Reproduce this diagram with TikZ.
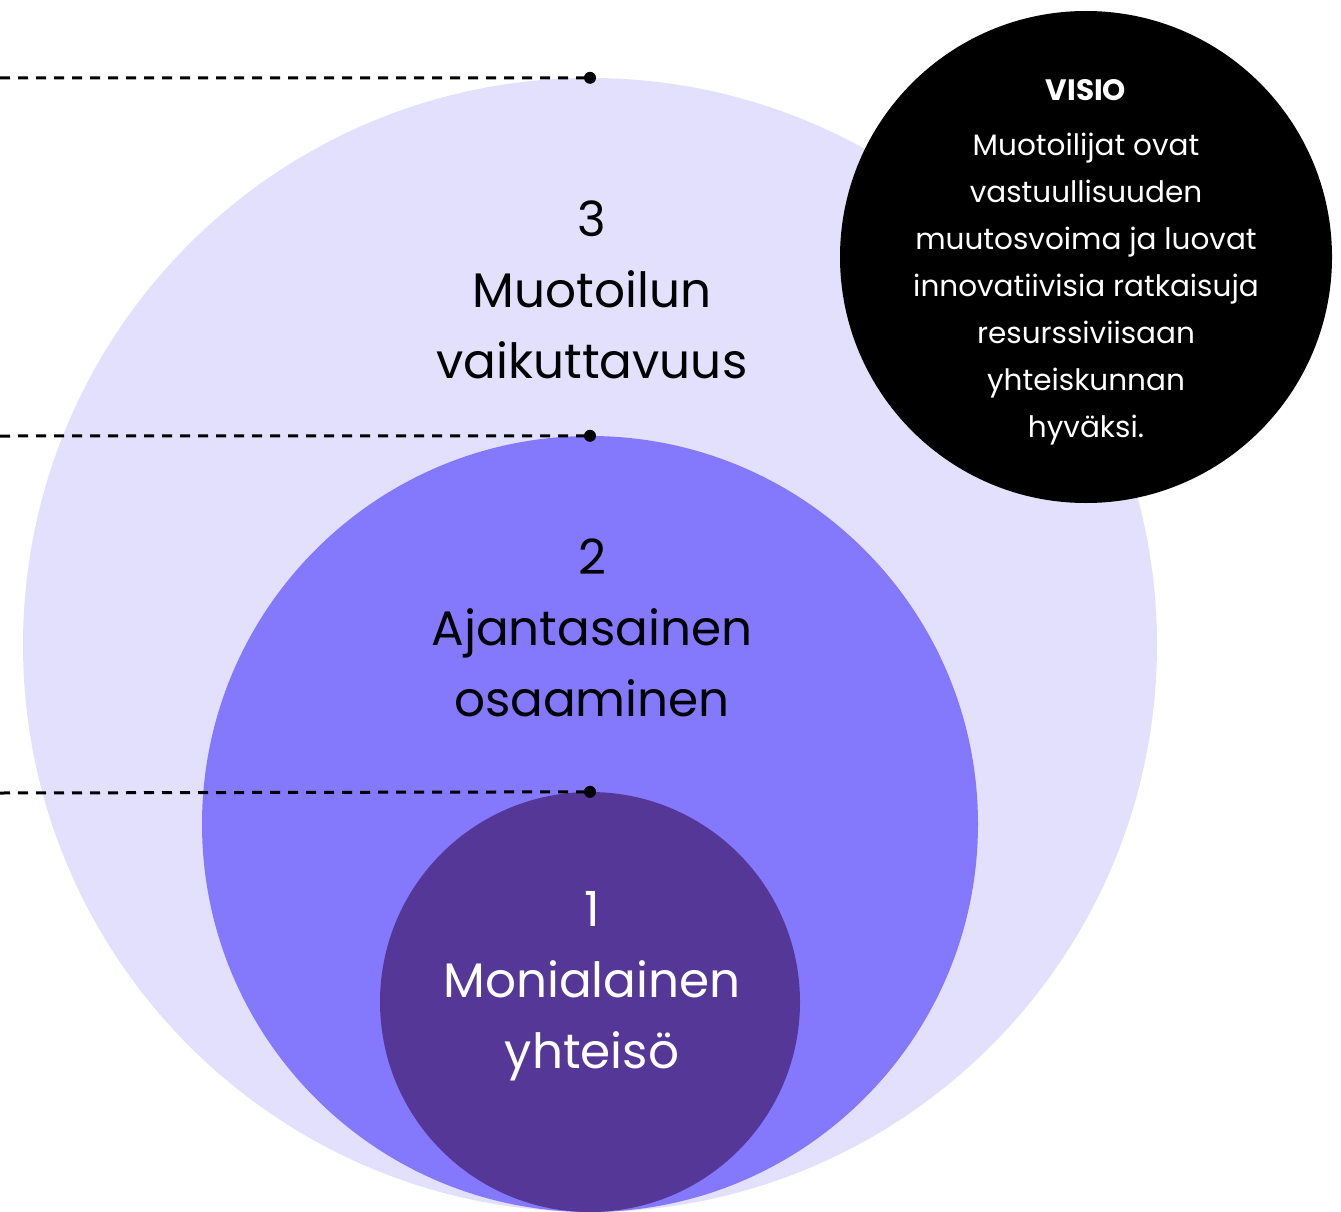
\documentclass[tikz,border=0pt]{standalone}
\usepackage{fontspec}
\setmainfont{Poppins}
\usepackage{xcolor}
\definecolor{lilac}{HTML}{E3E0FD}
\definecolor{violet}{HTML}{8478FD}
\definecolor{plum}{HTML}{553798}
\usetikzlibrary{positioning}
\tikzset{
    ring/.style={
        circle,
        inner sep=0pt
    },
    level/.style={
        align=center,
        anchor=base,
        font=\fontsize{48.5}{71}\selectfont
    },
    guide/.style={
        line width=3pt,
        dash pattern=on 10pt off 8pt
    },
    pin/.style={
        circle, fill=black,
        inner sep=0pt,
        minimum size=12pt
    },
}
\begin{document}
\begin{tikzpicture}[x=1pt, y=-1pt]
    \useasboundingbox (0,0) rectangle (1341,1212);
    % Draw nested circles
    \node[ring, fill=lilac, minimum size=1134pt] (vaik) at (590,645) {};
    \node[ring, fill=violet, minimum size=776pt] (osaa) at (590,824) {};
    \node[ring, fill=plum, minimum size=420pt] (yhte) at (590,1002) {};

    % Draw level texts
    \node[level] (t3) at (592,378) {3\\Muotoilun\\vaikuttavuus};
    \node[level] (t2) at (592,716) {2\\Ajantasainen\\osaaminen};
    \node[level, text=white] (t1) at (592,1068) {1\\Monialainen\\yhteisö};

    % Draw guides
    \coordinate (g3) at (0,78);
    \coordinate (g2) at (0,436);
    \coordinate (g1) at (0,793);
    \draw[guide] (g3) -- (vaik.north);
    \draw[guide] (g2) -- (osaa.north);
    \draw[guide] (g1) -- (yhte.north);
    \node[pin] at (vaik.north) {};
    \node[pin] at (osaa.north) {};
    \node[pin] at (yhte.north) {};

    % Draw vision
    \node[ring, fill=black, minimum size=492pt] (visio) at (1086,257) {};
    \node[anchor=base, text=white, font=\fontsize{29.5}{36}\selectfont\bfseries] (vtitle) at (1086,101) {VISIO};
    \node[anchor=base, align=center, text=white, font=\fontsize{29.5}{47}\selectfont] (vtext) at (1086,437)
        {Muotoilijat ovat\\vastuullisuuden\\muutosvoima ja luovat\\innovatiivisia ratkaisuja\\resurssiviisaan\\yhteiskunnan\\hyväksi.};
\end{tikzpicture}
\end{document}
